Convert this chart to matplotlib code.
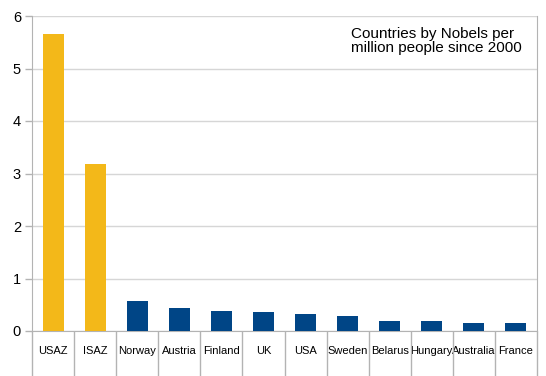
#!/usr/bin/env python3

"""
Countries by Nobels per million people since 2000
"""

import numpy as np
import matplotlib.pyplot as plt
from matplotlib.ticker import FixedLocator

# ============================================================
# Data
# ============================================================

countries = [
    "USAZ", "ISAZ", "Norway", "Austria", "Finland", "UK",
    "USA", "Sweden", "Belarus", "Hungary", "Australia", "France",
]

nobels_per_million = [
    5.66, 3.19, 0.58, 0.43, 0.39, 0.37,
    0.32, 0.29, 0.185, 0.185, 0.15, 0.145,
]

highlight = ["USAZ", "ISAZ"]

y_ticks = [0, 1, 2, 3, 4, 5, 6]

# ============================================================
# Style
# ============================================================

YELLOW = "#F3B819"
BLUE = "#004586"
GRID = "#d6d6d6"
AXIS = "#b3b3b3"

plt.rcParams["font.family"] = ["Liberation Sans", "DejaVu Sans"]

# ============================================================
# Plot
# ============================================================

fig = plt.figure(figsize=(5.46, 3.76), dpi=100)
ax = fig.add_axes([32 / 546, 45 / 376, 505 / 546, 315 / 376])

x = np.arange(len(countries))
colors = [YELLOW if c in highlight else BLUE for c in countries]

ax.bar(
    x,
    nobels_per_million,
    width=0.5,
    color=colors,
    zorder=3
)

ax.set_xlim(-0.5, len(countries) - 0.5)
ax.set_ylim(0, 6)

# y axis
ax.set_yticks(y_ticks)
ax.tick_params(
    axis="y",
    length=5,
    width=1,
    color=AXIS,
    labelsize=10.5,
    pad=3
)
ax.yaxis.grid(True, color=GRID, linewidth=1)
ax.set_axisbelow(True)

# x axis: labels centred, long dividers between categories
ax.set_xticks(x)
ax.set_xticklabels(countries)
ax.tick_params(
    axis="x",
    which="major",
    length=0,
    labelsize=8,
    pad=11
)
ax.xaxis.set_minor_locator(
    FixedLocator(np.arange(-0.5, len(countries), 1.0))
)
ax.tick_params(
    axis="x",
    which="minor",
    length=33,
    width=1,
    color=AXIS
)

for side in ["left", "bottom", "right"]:
    ax.spines[side].set_color(AXIS)
ax.spines["top"].set_visible(False)

ax.text(
    0.632,
    0.965,
    "Countries by Nobels per\nmillion people since 2000",
    transform=ax.transAxes,
    fontsize=11,
    ha="left",
    va="top",
    linespacing=1.0
)

fig.savefig("out.png", dpi=100)
